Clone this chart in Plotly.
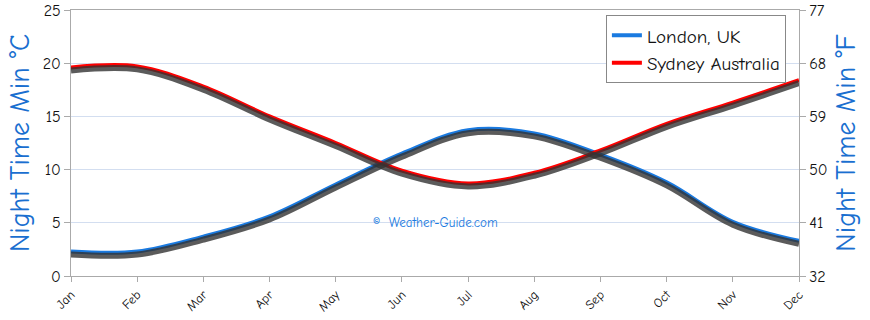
import plotly.graph_objects as go

months = ["Jan", "Feb", "Mar", "Apr", "May", "Jun", "Jul", "Aug", "Sep", "Oct", "Nov", "Dec"]
london = [2.3, 2.3, 3.7, 5.6, 8.6, 11.5, 13.7, 13.4, 11.4, 8.8, 5.1, 3.3]
sydney = [19.6, 19.7, 17.8, 15.0, 12.5, 9.9, 8.7, 9.7, 11.8, 14.3, 16.3, 18.4]
c_ticks = [0, 5, 10, 15, 20, 25]
f_ticks = [32, 41, 50, 59, 68, 77]

FONT = "Comic Neue, Comic Sans MS, Lato, sans-serif"
BLUE = "#1a7ae0"
RED = "#ff0000"
TITLE_BLUE = "#1a6fd0"

fig = go.Figure()

# shadow traces (same data, drawn on an offset hidden axis)
for vals in (london, sydney):
    fig.add_trace(go.Scatter(x=months, y=vals, mode="lines",
                             line=dict(color="rgba(50,50,50,0.8)", width=6, shape="spline"),
                             yaxis="y3", showlegend=False, hoverinfo="skip"))

fig.add_trace(go.Scatter(x=months, y=london, mode="lines", name="London, UK",
                         line=dict(color=BLUE, width=4, shape="spline")))
fig.add_trace(go.Scatter(x=months, y=sydney, mode="lines", name="Sydney Australia",
                         line=dict(color=RED, width=4, shape="spline")))
# dummy trace for right axis
fig.add_trace(go.Scatter(x=months, y=[None]*12, yaxis="y2", showlegend=False, hoverinfo="skip"))

fig.update_layout(
    width=870, height=320, autosize=False,
    margin=dict(l=71, r=71, t=10, b=44, autoexpand=False),
    plot_bgcolor="white", paper_bgcolor="white",
    font=dict(family=FONT, color="#111111", size=14),
    showlegend=True,
    legend=dict(x=0.982, y=0.98, xanchor="right", yanchor="top",
                bordercolor="#888888", borderwidth=1, bgcolor="white",
                font=dict(size=19, family=FONT, color="#111111"),
                itemwidth=30, tracegroupgap=2),
    xaxis=dict(range=[0, 11], showgrid=False, showline=True, linecolor="#aaaaaa", mirror=True,
               ticks="outside", ticklen=5, tickcolor="#aaaaaa", tickangle=-45,
               tickfont=dict(size=13), zeroline=False, automargin=False),
    yaxis=dict(range=[0, 25], tickvals=c_ticks, showgrid=True, gridcolor="#d3def0",
               showline=True, linecolor="#aaaaaa", ticks="outside", ticklen=6, tickcolor="#aaaaaa",
               tickfont=dict(size=16), zeroline=False, automargin=False,
               title=dict(text="Night Time Min °C", font=dict(size=28, color=TITLE_BLUE), standoff=4)),
    yaxis2=dict(range=[32, 77], tickvals=f_ticks, overlaying="y", side="right", showgrid=False,
                showline=True, linecolor="#aaaaaa", ticks="outside", ticklen=6, tickcolor="#aaaaaa",
                tickfont=dict(size=16), zeroline=False, automargin=False,
                title=dict(text="Night Time Min °F", font=dict(size=28, color=TITLE_BLUE), standoff=8)),
    yaxis3=dict(range=[0.28, 25.28], overlaying="y", visible=False),
    annotations=[dict(text="©  Weather-Guide.com", x=0.5, y=0.165, xref="paper", yref="paper",
                      showarrow=False, font=dict(size=13, color=BLUE, family=FONT))],
)

fig.write_html("out.html", config={"displayModeBar": False},
               post_script="document.body.style.margin='0';document.body.style.overflow='hidden';")
